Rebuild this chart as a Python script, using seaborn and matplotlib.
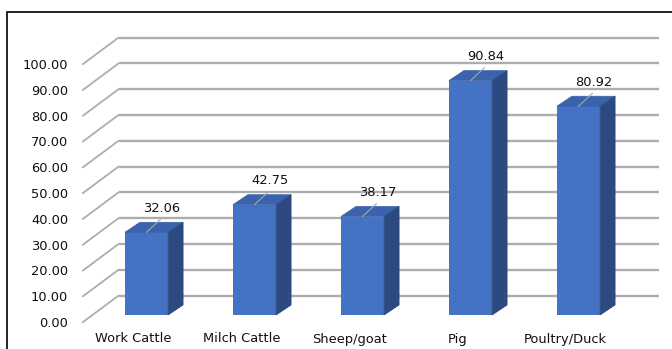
import matplotlib
matplotlib.use("Agg")
import matplotlib.pyplot as plt
from matplotlib.patches import Polygon, Rectangle
import seaborn as sns
import pandas as pd

categories = ["Work Cattle", "Milch Cattle", "Sheep/goat", "Pig", "Poultry/Duck"]
values = [32.06, 42.75, 38.17, 90.84, 80.92]
ytick_values = [0, 10, 20, 30, 40, 50, 60, 70, 80, 90, 100]
ytick_labels = ["%.2f" % v for v in ytick_values]

sns.set_style("white")
plt.rcParams['font.family'] = ['DejaVu Sans']

W, H = 672, 349
fig = plt.figure(figsize=(W / 100, H / 100), dpi=100)
# bar plane: x from 92.5 to 632.5 px, y 0 at 315 px, 100 at 57 px
ax = fig.add_axes([92.5 / W, (H - 315) / H, 540 / W, 258 / H])

df = pd.DataFrame({"cat": categories, "val": values})
sns.barplot(data=df, x="cat", y="val", color="#4472C4", width=0.4,
            saturation=1, ax=ax, zorder=3, linewidth=0)
ax.set_xlim(-0.5, 4.5)
ax.set_ylim(0, 100)
ax.axis("off")

pxx = 540 / 5.0      # px per x unit
pxy = 258 / 100.0    # px per y unit
back_dx, back_dy = 26 / pxx, 19.4 / pxy
front_dx, front_dy = -9.7 / pxx, -7.2 / pxy
bar_dx, bar_dy = 15 / pxx, 10 / pxy

grid_c = "#ADADAD"
txt_c = "#111111"
fs = 9.4
for v in ytick_values:
    ax.plot([-0.5 + back_dx, 4.5 + back_dx], [v + back_dy, v + back_dy],
            color=grid_c, lw=1.7, clip_on=False, zorder=1, solid_capstyle="butt")
    ax.plot([-0.5 + front_dx, -0.5 + back_dx], [v + front_dy, v + back_dy],
            color=grid_c, lw=1.3, clip_on=False, zorder=1)

for v, lab in zip(ytick_values, ytick_labels):
    ax.text(-0.5 + (68 - 92.5) / pxx, v - 8.5 / pxy, lab, ha="right", va="center",
            fontsize=fs, color=txt_c, clip_on=False)

for i, c in enumerate(categories):
    ax.text(i - 13 / pxx, -24 / pxy, c, ha="center", va="center",
            fontsize=fs, color=txt_c, clip_on=False)

for p, v in zip(ax.patches, values):
    x0 = p.get_x()
    x1 = x0 + p.get_width()
    h = p.get_height()
    top = Polygon([(x0, h), (x0 + bar_dx, h + bar_dy), (x1 + bar_dx, h + bar_dy), (x1, h)],
                  closed=True, fc="#3A62AD", ec="#3A62AD", lw=0.5, zorder=3, clip_on=False)
    side = Polygon([(x1, 0), (x1, h), (x1 + bar_dx, h + bar_dy), (x1 + bar_dx, bar_dy)],
                   closed=True, fc="#2C4A80", ec="#2C4A80", lw=0.5, zorder=3, clip_on=False)
    ax.add_patch(top)
    ax.add_patch(side)
    xc = x0 + p.get_width() / 2
    ax.plot([xc, xc + 14 / pxx], [h, h + 13 / pxy], color="#A6A6A6", lw=0.8,
            zorder=4, clip_on=False)
    ax.text(xc + 15 / pxx, h + 24 / pxy, "%.2f" % v, ha="center", va="center",
            fontsize=fs, color=txt_c, zorder=5, clip_on=False)

fig.add_artist(Rectangle((7 / W, -0.1), 1.2, (H - 12) / H + 0.1,
                         transform=fig.transFigure, fill=False, ec="black", lw=1.2))

fig.savefig("out.png", dpi=100)
